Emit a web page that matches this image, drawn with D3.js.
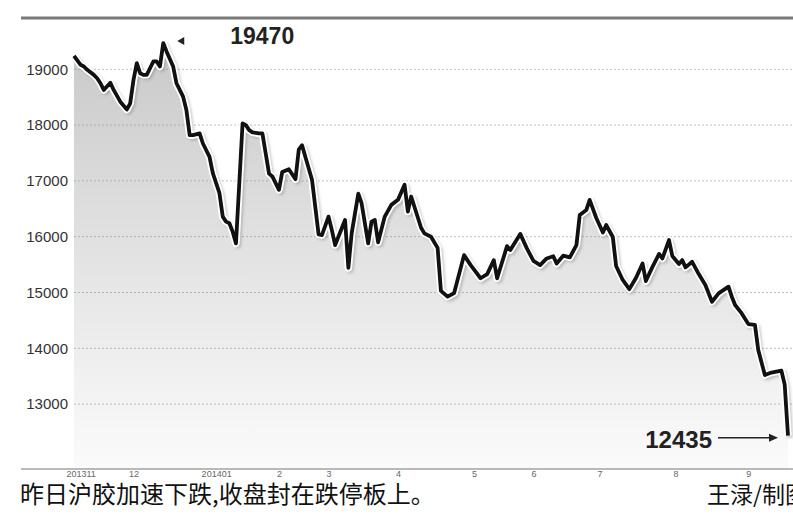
<!DOCTYPE html>
<html><head><meta charset="utf-8">
<script src="https://cdn.jsdelivr.net/npm/d3@7/dist/d3.min.js"></script>
<style>
html,body{margin:0;padding:0;background:#fff;}
svg{display:block;}
</style></head>
<body>
<svg id="chart" width="793" height="514"></svg>
<script>
// trading-day index (from mid-Nov 2013) and close price of 沪胶
const days = [0,2,3,4,6,7,8,9,11,12,14,16,17,18,19,20,21,22,24,25,26,27,28,30,31,33,34,35,36,38,39,41,42,44,45,46,47,48,49,51,52,53,54,56,57,59,60,62,63,65,67,68,69,70,72,74,75,77,78,79,81,82,83,84,86,87,89,90,91,92,94,96,98,100,101,102,105,106,108,110,111,113,115,118,120,123,125,127,128,131,132,135,137,139,141,143,145,146,148,150,152,153,155,156,158,160,161,163,164,166,168,170,172,173,175,177,178,180,181,183,184,185,187,189,191,193,195,198,199,200,202,204,206,207,209,211,214,215,216];
const prices = [19240,19080,19050,18990,18900,18840,18750,18630,18760,18630,18420,18280,18390,18810,19110,18930,18900,18900,19140,19140,19050,19470,19320,19050,18750,18510,18270,17820,17820,17850,17670,17430,17140,16780,16360,16270,16240,16090,15880,18030,18000,17910,17870,17850,17850,17130,17080,16840,17160,17210,17030,17560,17640,17430,17020,16040,16030,16360,16120,15850,16150,16300,15440,16060,16770,16600,15880,16270,16300,15900,16360,16570,16660,16930,16450,16720,16160,16060,16000,15800,15030,14925,14990,15670,15490,15255,15330,15580,15255,15830,15760,16050,15790,15565,15490,15610,15650,15520,15660,15630,15850,16390,16480,16660,16335,16075,16210,15995,15475,15225,15060,15260,15520,15205,15460,15690,15610,15940,15655,15510,15580,15450,15550,15330,15135,14835,14985,15105,14925,14775,14625,14435,14420,13970,13520,13565,13600,13350,12435];
const yTicks = [13000,14000,15000,16000,17000,18000,19000];
const xTickDays = [2,18,43,62,77,98,121,139,159,182,204];
const xTickLabels = ["201311","12","201401","2","3","4","5","6","7","8","9"];
const highLabel = "19470";
const lowLabel = "12435";
const caption = "昨日沪胶加速下跌,收盘封在跌停板上。";
const credit = "王渌/制图";

const data = days.map((d,i)=>({d, v: prices[i]}));
const svg = d3.select("#chart");
const x = d3.scaleLinear().domain([0,216]).range([74,788]);
const y = d3.scaleLinear().domain([11837,19919]).range([469,18]);

const defs = svg.append("defs");
const g = defs.append("linearGradient").attr("id","areaGrad")
  .attr("gradientUnits","userSpaceOnUse").attr("x1",0).attr("x2",0).attr("y1",y(19919)).attr("y2",y(11837));
g.append("stop").attr("offset","0").attr("stop-color","#c6c6c6");
g.append("stop").attr("offset","0.55").attr("stop-color","#e4e4e4");
g.append("stop").attr("offset","1").attr("stop-color","#fbfbfb");
const f = defs.append("filter").attr("id","blur").attr("x","-5%").attr("y","-5%").attr("width","110%").attr("height","110%");
f.append("feGaussianBlur").attr("stdDeviation",1.5);

// area
const area = d3.area().x(p=>x(p.d)).y0(y(11837)).y1(p=>y(p.v));
svg.append("path").datum(data).attr("d",area).attr("fill","url(#areaGrad)");

// gridlines
svg.append("g").selectAll("line").data(yTicks).join("line")
  .attr("x1",x(0)).attr("x2",793).attr("y1",d=>y(d)).attr("y2",d=>y(d))
  .attr("stroke","#8a8a8a").attr("stroke-width",1).attr("stroke-dasharray","2,2").attr("opacity",0.55);

// top rule
svg.append("line").attr("x1",21).attr("x2",793).attr("y1",y(19919)).attr("y2",y(19919))
  .attr("stroke","#7a7a7a").attr("stroke-width",3);

// line with shadow and halo
const line = d3.line().x(p=>x(p.d)).y(p=>y(p.v));
svg.append("path").datum(data).attr("d",line).attr("fill","none")
  .attr("stroke","#777").attr("stroke-width",6).attr("opacity",0.45)
  .attr("transform","translate(2,2)").attr("filter","url(#blur)").attr("stroke-linejoin","round");
svg.append("path").datum(data).attr("d",line).attr("fill","none")
  .attr("stroke","#fff").attr("stroke-width",7.5).attr("stroke-linejoin","round");
svg.append("path").datum(data).attr("d",line).attr("fill","none")
  .attr("stroke","#111").attr("stroke-width",3.8).attr("stroke-linejoin","round");

// y axis
const ya = svg.append("g").attr("transform","translate(70,0)")
  .call(d3.axisLeft(y).tickValues(yTicks).tickSize(0).tickPadding(2).tickFormat(d3.format("d")));
ya.select(".domain").remove();
ya.selectAll("text").attr("font-family","Liberation Sans, Arial, sans-serif").attr("font-size",15).attr("fill","#333");

// x axis
svg.append("line").attr("x1",21).attr("x2",793).attr("y1",y(11837)).attr("y2",y(11837))
  .attr("stroke","#777").attr("stroke-width",1.2);
const xa = svg.append("g").attr("transform",`translate(0,${y(11837)})`)
  .call(d3.axisBottom(x).tickValues(xTickDays).tickSize(0).tickPadding(2).tickFormat((d,i)=>xTickLabels[i]));
xa.select(".domain").remove();
xa.selectAll("text").attr("font-family","Liberation Sans Narrow, Liberation Sans, sans-serif").attr("font-size",9).attr("fill","#666");

// annotations
const hi = data.find(p=>p.v===+highLabel);
svg.append("path")
  .attr("d",`M${x(hi.d)+14},${y(hi.v)-2} l7,-4 l0,8 z`).attr("fill","#222");
svg.append("text").attr("x",x(hi.d)+67).attr("y",y(hi.v)+1).text(highLabel)
  .attr("font-family","Liberation Sans, Arial, sans-serif").attr("font-weight","bold").attr("font-size",23).attr("fill","#222");
const lo = data[data.length-1];
svg.append("text").attr("x",x(lo.d)-76).attr("y",y(lo.v)+12).text(lowLabel).attr("text-anchor","end")
  .attr("font-family","Liberation Sans, Arial, sans-serif").attr("font-weight","bold").attr("font-size",24).attr("fill","#222");
svg.append("line").attr("x1",x(lo.d)-70).attr("x2",x(lo.d)-14).attr("y1",y(lo.v)+2).attr("y2",y(lo.v)+2)
  .attr("stroke","#222").attr("stroke-width",1.5);
svg.append("path").attr("d",`M${x(lo.d)-10},${y(lo.v)+2} l-9,-4 l0,8 z`).attr("fill","#222");

// caption
svg.append("text").attr("x",20).attr("y",503).text(caption)
  .attr("font-family","Noto Sans CJK SC, sans-serif").attr("font-size",24).attr("fill","#111");
svg.append("text").attr("x",707).attr("y",503).text(credit)
  .attr("font-family","Noto Sans CJK SC, sans-serif").attr("font-size",23).attr("fill","#111");
</script>
</body></html>
